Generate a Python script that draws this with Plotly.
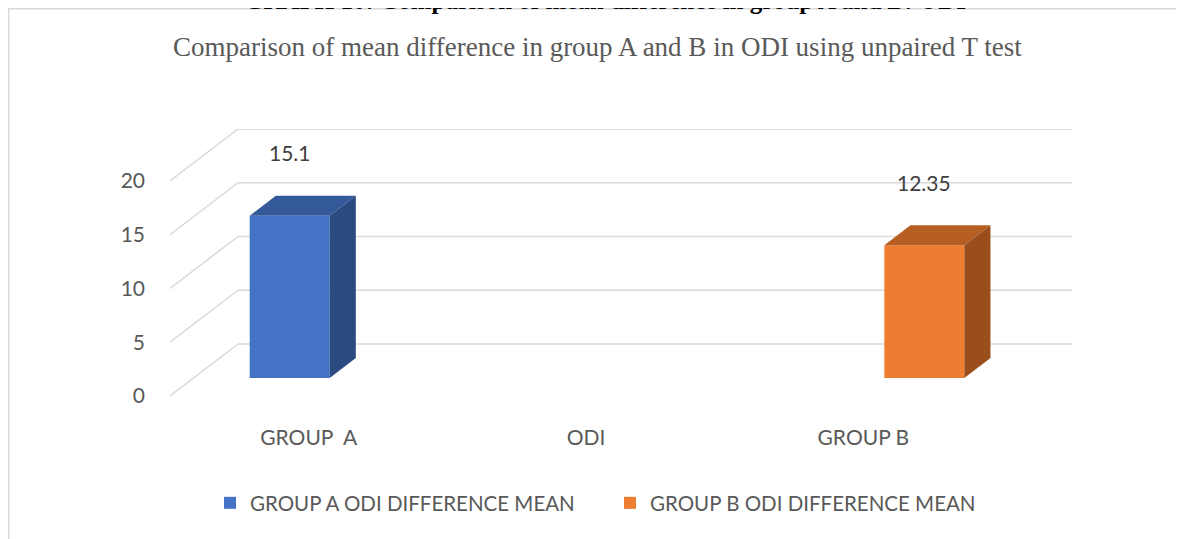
import plotly.graph_objects as go

# ---------------- data ----------------
categories = ["GROUP  A", "ODI", "GROUP B"]
series_names = ["GROUP A ODI DIFFERENCE MEAN", "GROUP B ODI DIFFERENCE MEAN"]
group_a_values = [15.1, None, None]
group_b_values = [None, None, 12.35]
y_ticks = [0, 5, 10, 15, 20]
chart_title = "Comparison of mean difference in group A and B in ODI using unpaired T test"
top_caption = "GRAPH 10: Comparison of mean difference in group A and B: ODI"

# ---------------- styles / geometry ----------------
W, H = 1184, 539
PAGE_OFF = 8                      # browser body margin
PL, PT = 170, 129                 # plot area left/top in screen px
PW, PH = 902, 267                 # plot area size
ML, MT = PL - PAGE_OFF, PT - PAGE_OFF
MR, MB = W - ML - PW, H - MT - PH
PX_PER_UNIT_Y = 10.75
PX_PER_CAT = 277.33
Y_MAX = PH / PX_PER_UNIT_Y
X_MIN = -0.5
X_MAX = X_MIN + PW / PX_PER_CAT
DX = 68 / PX_PER_CAT          # depth offset (x units) front->back wall
DY = 52 / PX_PER_UNIT_Y       # depth offset (y units) front->back wall
D_FRONT, D_BACK = 0.346, 0.73  # bar front / back planes as depth fraction
BAR_W = 80 / PX_PER_CAT
SHIFT = -2.5 / PX_PER_CAT
SLOT = [-BAR_W + SHIFT, SHIFT]
FRONT = ["#4472C4", "#ED7D31"]
TOP = ["#345A9C", "#B75F23"]
SIDE = ["#2A4A80", "#9A4E1C"]
GRID = "#D9D9D9"
TXT = "#595959"
SANS = "Lato"
SERIF = "Liberation Serif"


def px2paper_x(px):
    return (px - PL) / PW


def px2paper_y(py):
    return (PT + PH - py) / PH


fig = go.Figure()
series_values = [group_a_values, group_b_values]

# front faces as real bars
for s, vals in enumerate(series_values):
    fig.add_trace(go.Bar(
        x=list(range(len(categories))), y=vals, name=series_names[s],
        base=D_FRONT * DY, offset=SLOT[s] + D_FRONT * DX, width=BAR_W,
        marker=dict(color=FRONT[s], line=dict(width=0)), hoverinfo="skip",
    ))

# top and side faces
annotations = []
for s, vals in enumerate(series_values):
    for i, v in enumerate(vals):
        if v is None:
            continue
        x0 = i + SLOT[s]
        x1 = x0 + BAR_W
        fx0, fx1 = x0 + D_FRONT * DX, x1 + D_FRONT * DX
        bx0, bx1 = x0 + D_BACK * DX, x1 + D_BACK * DX
        fy0, fyt = D_FRONT * DY, v + D_FRONT * DY
        by0, byt = D_BACK * DY, v + D_BACK * DY
        fig.add_trace(go.Scatter(
            x=[fx0, fx1, bx1, bx0, fx0], y=[fyt, fyt, byt, byt, fyt],
            fill="toself", fillcolor=TOP[s], mode="lines", line=dict(width=0),
            showlegend=False, hoverinfo="skip"))
        fig.add_trace(go.Scatter(
            x=[fx1, bx1, bx1, fx1, fx1], y=[fyt, byt, by0, fy0, fyt],
            fill="toself", fillcolor=SIDE[s], mode="lines", line=dict(width=0),
            showlegend=False, hoverinfo="skip"))
        annotations.append(dict(
            x=(fx0 + fx1) / 2, y=fyt, xref="x", yref="y", text=str(v),
            showarrow=False, yshift=63, font=dict(family=SANS, size=21, color="#404040")))

# gridlines: back wall + left wall diagonals
shapes = []
for t in y_ticks:
    shapes.append(dict(type="line", xref="x", yref="y", layer="below",
                       x0=X_MIN + DX, x1=X_MAX, y0=t + DY, y1=t + DY,
                       line=dict(color=GRID, width=1.5)))
    shapes.append(dict(type="line", xref="x", yref="y", layer="below",
                       x0=X_MIN, x1=X_MIN + DX, y0=t, y1=t + DY,
                       line=dict(color=GRID, width=1.5)))

# chart area border (left + top)
shapes.append(dict(type="path", xref="paper", yref="paper", layer="below",
                   path="M %f %f L %f %f L %f %f" % (
                       px2paper_x(8.5), px2paper_y(560), px2paper_x(8.5), px2paper_y(8.5),
                       px2paper_x(1200), px2paper_y(8.5)),
                   line=dict(color=GRID, width=2)))

annotations.append(dict(x=px2paper_x(597), y=px2paper_y(47), xref="paper", yref="paper",
                        text=chart_title, showarrow=False, xanchor="center", yanchor="middle",
                        font=dict(family=SERIF, size=27, color=TXT)))
annotations.append(dict(x=px2paper_x(605), y=px2paper_y(1), xref="paper", yref="paper",
                        text="<b>" + top_caption + "</b>", showarrow=False,
                        xanchor="center", yanchor="middle",
                        font=dict(family=SERIF, size=25, color="#000000")))

fig.update_layout(
    width=W, height=H, margin=dict(l=ML, r=MR, t=MT, b=MB),
    paper_bgcolor="white", plot_bgcolor="white",
    barmode="overlay", showlegend=True,
    shapes=shapes, annotations=annotations,
    legend=dict(orientation="h", x=px2paper_x(210), y=px2paper_y(503),
                xanchor="left", yanchor="middle", entrywidth=355,
                font=dict(family=SANS, size=20.5, color=TXT)),
    xaxis=dict(range=[X_MIN, X_MAX], tickvals=list(range(len(categories))),
               ticktext=categories, showgrid=False, zeroline=False, showline=False,
               ticks="", ticklabelstandoff=27,
               tickfont=dict(family=SANS, size=21, color=TXT), fixedrange=True),
    yaxis=dict(range=[0, Y_MAX], tickvals=y_ticks, showgrid=False, zeroline=False,
               showline=False, ticks="", ticklabelstandoff=24,
               tickfont=dict(family=SANS, size=21, color=TXT), fixedrange=True),
)

fig.write_html("out.html")
